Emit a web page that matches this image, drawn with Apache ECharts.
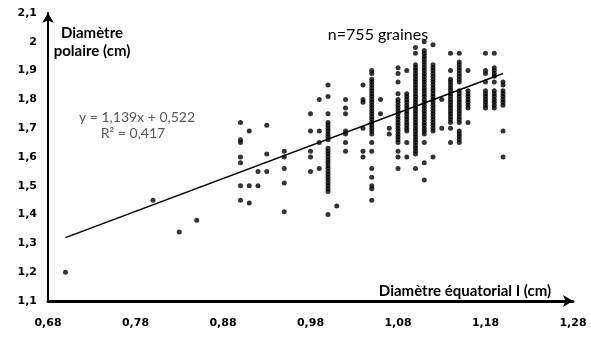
<!DOCTYPE html>
<html>
<head>
<meta charset="utf-8">
<script src="https://cdn.jsdelivr.net/npm/echarts@6/dist/echarts.min.js"></script>
<style>
html,body{margin:0;padding:0;background:#fff;}
#c{width:591px;height:340px;}
</style>
</head>
<body>
<div id="c"></div>
<script>
// Column x positions (Diamètre équatorial, cm)
const colX = [0.70,0.80,0.83,0.85,0.90,0.91,0.92,0.93,0.95,0.98,0.99,1.00,1.01,1.02,1.04,1.05,1.06,1.07,1.08,1.09,1.10,1.11,1.12,1.13,1.14,1.15,1.16,1.18,1.19,1.20];
// y values (Diamètre polaire, cm) for each column
const colY = [
  [1.20],
  [1.45],
  [1.34],
  [1.38],
  [1.72,1.66,1.65,1.60,1.58,1.50,1.45],
  [1.69,1.50,1.44],
  [1.55,1.50],
  [1.71,1.61,1.55],
  [1.62,1.60,1.56,1.51,1.41],
  [1.75,1.69,1.62,1.60,1.55],
  [1.80,1.69,1.65,1.56],
  [1.85,1.81,1.75,1.72,1.71,1.70,1.69,1.68,1.67,1.66,1.63,1.62,1.61,1.60,1.59,1.58,1.57,1.56,1.55,1.54,1.53,1.52,1.51,1.50,1.49,1.48,1.40],
  [1.43],
  [1.80,1.77,1.75,1.69,1.68,1.65,1.62],
  [1.85,1.80,1.79,1.70,1.62,1.60],
  [1.90,1.89,1.87,1.86,1.85,1.84,1.83,1.82,1.81,1.80,1.79,1.78,1.77,1.76,1.75,1.74,1.73,1.72,1.71,1.70,1.69,1.68,1.65,1.62,1.56,1.53,1.50,1.49,1.45],
  [1.80,1.75],
  [1.70,1.68],
  [1.91,1.89,1.86,1.82,1.80,1.79,1.78,1.77,1.76,1.75,1.74,1.73,1.72,1.71,1.70,1.69,1.68,1.67,1.66,1.65,1.62,1.60,1.56],
  [1.90,1.82,1.81,1.80,1.79,1.78,1.77,1.76,1.75,1.74,1.73,1.72,1.71,1.70,1.69,1.65,1.60],
  [1.98,1.96,1.92,1.91,1.90,1.89,1.88,1.87,1.86,1.85,1.84,1.83,1.82,1.81,1.80,1.79,1.78,1.77,1.76,1.75,1.74,1.73,1.72,1.71,1.70,1.69,1.68,1.67,1.66,1.65,1.64,1.63,1.62,1.61,1.56],
  [2.00,1.97,1.96,1.95,1.94,1.93,1.92,1.91,1.90,1.89,1.88,1.87,1.86,1.85,1.84,1.83,1.82,1.81,1.80,1.79,1.78,1.77,1.76,1.75,1.74,1.73,1.72,1.71,1.70,1.69,1.68,1.65,1.58,1.52],
  [1.99,1.92,1.91,1.90,1.89,1.88,1.87,1.86,1.85,1.84,1.83,1.82,1.81,1.80,1.79,1.78,1.77,1.76,1.75,1.74,1.73,1.72,1.71,1.70,1.69,1.60],
  [1.80,1.70],
  [1.96,1.90,1.87,1.86,1.85,1.84,1.83,1.82,1.81,1.80,1.79,1.78,1.77,1.76,1.75,1.74,1.73,1.72,1.70,1.65],
  [1.96,1.93,1.92,1.91,1.90,1.89,1.88,1.87,1.86,1.83,1.82,1.81,1.80,1.79,1.78,1.77,1.76,1.75,1.74,1.73,1.72,1.69,1.68,1.67,1.66,1.65],
  [1.90,1.83,1.82,1.81,1.80,1.79,1.78,1.77,1.72],
  [1.96,1.90,1.89,1.86,1.83,1.82,1.81,1.80,1.79,1.78,1.77],
  [1.96,1.91,1.90,1.89,1.88,1.86,1.83,1.82,1.81,1.80,1.79,1.78,1.77],
  [1.86,1.85,1.83,1.82,1.81,1.80,1.79,1.78,1.69,1.60]
];
// Trend line end points (y = 1,139x + 0,522)
const trendX = [0.70, 1.20];
const trendY = [1.32, 1.89];
const eqText = ['y = 1,139x + 0,522', 'R² = 0,417'];
const nText = 'n=755 graines';
const xTitle = 'Diamètre équatorial I (cm)';
const yTitle = ['Diamètre', 'polaire (cm)'];

const points = [];
colX.forEach((x, i) => colY[i].forEach(y => points.push([x, y])));
const trend = trendX.map((x, i) => [x, trendY[i]]);

const chart = echarts.init(document.getElementById('c'), null, {renderer: 'canvas'});
const tickFont = {fontFamily: 'DejaVu Sans', fontWeight: 'bold', fontSize: 11, color: '#000'};
chart.setOption({
  animation: false,
  backgroundColor: '#fff',
  grid: {left: 48, right: 18, top: 13, bottom: 39},
  xAxis: {
    type: 'value', min: 0.68, max: 1.28, interval: 0.1,
    axisLine: {show: true, lineStyle: {color: '#000', width: 3}, symbol: ['none', 'arrow'], symbolSize: [9, 10]},
    axisTick: {show: false},
    splitLine: {show: false},
    axisLabel: Object.assign({margin: 17, formatter: v => v.toFixed(2).replace('.', ',')}, tickFont)
  },
  yAxis: {
    type: 'value', min: 1.1, max: 2.1, interval: 0.1,
    axisLine: {show: true, lineStyle: {color: '#000', width: 2}, symbol: ['none', 'arrow'], symbolSize: [9, 10]},
    axisTick: {show: false},
    splitLine: {show: false},
    axisLabel: Object.assign({margin: 11, formatter: v => String(Math.round(v * 10) / 10).replace('.', ',')}, tickFont)
  },
  series: [
    {type: 'scatter', data: points, symbolSize: 5, itemStyle: {color: '#000'}, z: 2},
    {type: 'line', data: trend, symbol: 'none', lineStyle: {color: '#000', width: 1.5}, z: 3}
  ],
  graphic: [
    {type: 'text', x: 465, y: 291, style: {text: xTitle, font: 'bold 15px Lato', fill: '#000', align: 'center', verticalAlign: 'middle'}},
    {type: 'text', x: 92, y: 33, style: {text: yTitle[0], font: 'bold 15px Lato', fill: '#000', align: 'center', verticalAlign: 'middle'}},
    {type: 'text', x: 92, y: 51, style: {text: yTitle[1], font: 'bold 15px Lato', fill: '#000', align: 'center', verticalAlign: 'middle'}},
    {type: 'text', x: 378, y: 35, style: {text: nText, font: '16px Lato', fill: '#000', align: 'center', verticalAlign: 'middle'}},
    {type: 'text', x: 137, y: 117, style: {text: eqText[0], font: '14px Lato', fill: '#595959', align: 'center', verticalAlign: 'middle'}},
    {type: 'text', x: 133, y: 133, style: {text: eqText[1], font: '14px Lato', fill: '#595959', align: 'center', verticalAlign: 'middle'}}
  ]
});
</script>
</body>
</html>
